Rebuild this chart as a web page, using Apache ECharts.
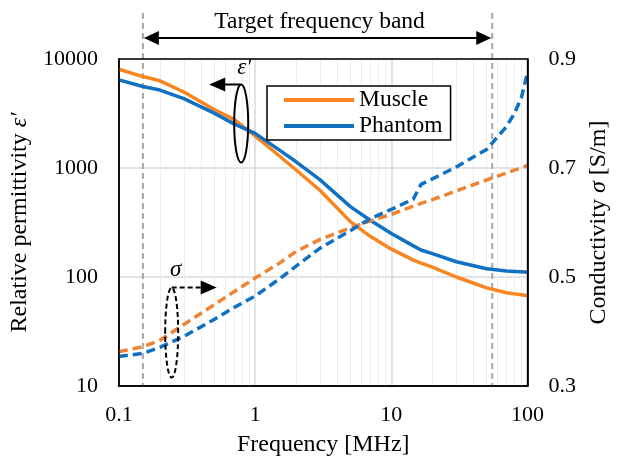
<!DOCTYPE html>
<html><head><meta charset="utf-8">
<script src="https://cdn.jsdelivr.net/npm/echarts@6/dist/echarts.min.js"></script>
<style>html,body{margin:0;padding:0;background:#fff}#c{width:619px;height:462px}</style>
</head><body><div id="c"></div>
<script>
const freq       = [0.1, 0.15, 0.2, 0.3, 0.5, 0.7, 1, 1.5, 2, 3, 5, 7, 10, 14.5, 16.5, 20, 30, 50, 70, 80, 90, 100];
const muscleEps  = [8060, 6900, 6310, 4980, 3440, 2790, 1970, 1295, 959, 622, 322, 236, 180, 143, 134, 123, 100, 79.4, 71.6, 70, 68.6, 67.2];
const phantomEps = [6440, 5600, 5190, 4330, 3190, 2540, 2080, 1465, 1140, 778, 442, 332, 251, 193, 177, 164, 138, 119, 113.5, 112.5, 111.5, 110.4];
const muscleSig  = [0.363, 0.372, 0.384, 0.413, 0.449, 0.473, 0.498, 0.525, 0.547, 0.569, 0.590, 0.603, 0.615, 0.630, 0.635, 0.642, 0.658, 0.678, 0.691, 0.696, 0.700, 0.705];
const phantomSig = [0.354, 0.360, 0.371, 0.391, 0.422, 0.444, 0.465, 0.496, 0.520, 0.553, 0.585, 0.607, 0.624, 0.643, 0.670, 0.680, 0.702, 0.734, 0.776, 0.800, 0.829, 0.876];
const minorGrid  = [0.2,0.3,0.4,0.5,0.6,0.7,0.8,0.9,2,3,4,5,6,7,8,9,20,30,40,50,60,70,80,90];
const bandEdges  = [0.15, 55];
const xTicks = ['0.1', '1', '10', '100'];
const leftTicks = ['10', '100', '1000', '10000'];
const rightTicks = ['0.3', '0.5', '0.7', '0.9'];

const FONT = '"Liberation Serif", "Times New Roman", serif';
const ORANGE = '#F98521', ORANGE_D = '#EE8333', BLUE = '#1071C2';
const LW = 3.5;
const zip = (xs, ys) => xs.map((x, i) => [x, ys[i]]);

const chart = echarts.init(document.getElementById('c'), null, {renderer: 'canvas'});
const tick = {fontFamily: FONT, fontSize: 22, color: '#000'};
const ttl = {fontFamily: FONT, fontSize: 24, color: '#000'};
const legendIcon = 'path://M0,0 L70,0 L70,4 L0,4 Z';

chart.setOption({
  animation: false,
  backgroundColor: '#fff',
  grid: {left: 118, right: 90, top: 59, bottom: 72, show: false},
  legend: {
    data: [
      {name: 'Muscle', icon: legendIcon, itemStyle: {color: ORANGE, borderWidth: 0}},
      {name: 'Phantom', icon: legendIcon, itemStyle: {color: BLUE, borderWidth: 0}}
    ],
    orient: 'vertical', left: 267, top: 86, z: 20,
    padding: [2, 8, 2, 17], itemGap: 2, itemWidth: 70, itemHeight: 4,
    itemStyle: {borderWidth: 0}, lineStyle: {type: 'solid', width: 0},
    borderColor: '#000', borderWidth: 1.5, backgroundColor: '#fff',
    textStyle: {fontFamily: FONT, fontSize: 23.5, color: '#000'}, selectedMode: false
  },
  xAxis: {
    type: 'log', logBase: 10, min: 0.1, max: 100,
    name: 'Frequency [MHz]', nameLocation: 'middle', nameGap: 47, nameTextStyle: ttl,
    axisLine: {show: true, lineStyle: {color: '#000', width: 1.5}},
    axisTick: {show: false},
    axisLabel: Object.assign({margin: 18, formatter: v => xTicks.find(t => Math.abs(+t - v) < 1e-6 * (+t)) || ''}, tick),
    splitLine: {show: true, lineStyle: {color: '#d9d9d9', width: 1.5}}
  },
  yAxis: [{
    type: 'log', logBase: 10, min: 10, max: 10000, position: 'left',
    name: 'Relative permittivity {i|ε′}', nameLocation: 'middle', nameGap: 84,
    nameTextStyle: Object.assign({rich: {i: Object.assign({fontStyle: 'italic'}, ttl)}}, ttl),
    axisLine: {show: true, lineStyle: {color: '#000', width: 1.5}},
    axisTick: {show: false},
    axisLabel: Object.assign({margin: 21, formatter: v => leftTicks.find(t => Math.abs(+t - v) < 1e-6 * (+t)) || ''}, tick),
    splitLine: {show: true, lineStyle: {color: '#d9d9d9', width: 1.5}}
  }, {
    type: 'value', min: 0.3, max: 0.9, interval: 0.2, position: 'right',
    name: 'Conductivity {i|σ} [S/m]', nameLocation: 'middle', nameGap: 59,
    nameTextStyle: Object.assign({rich: {i: Object.assign({fontStyle: 'italic'}, ttl)}}, ttl),
    axisLine: {show: true, lineStyle: {color: '#000', width: 1.5}},
    axisTick: {show: false},
    axisLabel: Object.assign({margin: 21, formatter: v => rightTicks.find(t => Math.abs(+t - v) < 1e-6) || ''}, tick),
    splitLine: {show: false}
  }],
  series: [
    {type: 'line', data: [[1, 100]], symbol: 'none', lineStyle: {opacity: 0}, z: 1, silent: true,
     markLine: {silent: true, z: 1, symbol: ['none', 'none'], label: {show: false},
       lineStyle: {color: '#eeeeee', width: 1, type: 'solid'},
       data: minorGrid.map(v => ({xAxis: v}))}},
    {name: 'Muscle', type: 'line', yAxisIndex: 0, data: zip(freq, muscleEps), symbol: 'none', showSymbol: false,
     lineStyle: {color: ORANGE, width: LW, join: 'round'}, itemStyle: {color: ORANGE}, z: 5},
    {name: 'Phantom', type: 'line', yAxisIndex: 0, data: zip(freq, phantomEps), symbol: 'none', showSymbol: false,
     lineStyle: {color: BLUE, width: LW, join: 'round'}, itemStyle: {color: BLUE}, z: 5},
    {name: 'Muscle σ', type: 'line', yAxisIndex: 1, data: zip(freq, muscleSig), symbol: 'none', showSymbol: false,
     lineStyle: {color: ORANGE_D, width: LW, type: [9, 5], join: 'round'}, itemStyle: {color: ORANGE_D}, z: 5},
    {name: 'Phantom σ', type: 'line', yAxisIndex: 1, data: zip(freq, phantomSig), symbol: 'none', showSymbol: false,
     lineStyle: {color: BLUE, width: LW, type: [9, 5], join: 'round'}, itemStyle: {color: BLUE}, z: 5}
  ]
});

const px = v => chart.convertToPixel({xAxisIndex: 0}, v);
const pyL = v => chart.convertToPixel({yAxisIndex: 0}, v);
const pyR = v => chart.convertToPixel({yAxisIndex: 1}, v);

const x0 = px(0.1), x1 = px(100), yT = pyL(10000), yB = pyL(10);
const bx0 = px(bandEdges[0]), bx1 = px(bandEdges[1]);
const arrowY = 38;
const els = [];
els.push({type: 'rect', z: 100, shape: {x: x0, y: yT, width: x1 - x0, height: yB - yT},
  style: {fill: 'none', stroke: '#000', lineWidth: 1.5}});
[bx0, bx1].forEach(x => els.push({type: 'line', z: 3, shape: {x1: x, y1: 13, x2: x, y2: yB},
  style: {stroke: '#a6a6a6', lineWidth: 2, lineDash: [6, 4]}}));
els.push({type: 'line', z: 50, shape: {x1: bx0 + 10, y1: arrowY, x2: bx1 - 10, y2: arrowY}, style: {stroke: '#000', lineWidth: 2}});
els.push({type: 'polygon', z: 50, shape: {points: [[bx0 + 1, arrowY], [bx0 + 16, arrowY - 7], [bx0 + 16, arrowY + 7]]}, style: {fill: '#000'}});
els.push({type: 'polygon', z: 50, shape: {points: [[bx1 - 1, arrowY], [bx1 - 16, arrowY - 7], [bx1 - 16, arrowY + 7]]}, style: {fill: '#000'}});
els.push({type: 'text', z: 50, x: (bx0 + bx1) / 2 + 2, y: 22,
  style: {text: 'Target frequency band', font: '23.5px ' + FONT, fill: '#000', textAlign: 'center', textVerticalAlign: 'middle'}});

// epsilon annotation
const ecx = px(0.79), ecy = pyL(2560), erx = 7, ery = 39;
els.push({type: 'ellipse', z: 50, shape: {cx: ecx, cy: ecy, rx: erx, ry: ery}, style: {fill: 'none', stroke: '#000', lineWidth: 2}});
els.push({type: 'line', z: 50, shape: {x1: ecx, y1: ecy - ery, x2: ecx - 18, y2: ecy - ery}, style: {stroke: '#000', lineWidth: 2}});
els.push({type: 'polygon', z: 50, shape: {points: [[ecx - 32, ecy - ery], [ecx - 16, ecy - ery - 7], [ecx - 16, ecy - ery + 7]]}, style: {fill: '#000'}});
els.push({type: 'text', z: 50, x: ecx + 3, y: ecy - ery - 17,
  style: {text: 'ε′', font: 'italic 23px ' + FONT, fill: '#000', textAlign: 'center', textVerticalAlign: 'middle'}});

// sigma annotation
const scx = px(0.244), scy = pyR(0.398), srx = 6.5, sry = 45;
els.push({type: 'ellipse', z: 50, shape: {cx: scx, cy: scy, rx: srx, ry: sry}, style: {fill: 'none', stroke: '#000', lineWidth: 2, lineDash: [5, 3]}});
els.push({type: 'line', z: 50, shape: {x1: scx, y1: scy - sry, x2: scx + 30, y2: scy - sry}, style: {stroke: '#000', lineWidth: 2, lineDash: [5, 3]}});
els.push({type: 'polygon', z: 50, shape: {points: [[scx + 45, scy - sry], [scx + 29, scy - sry - 7], [scx + 29, scy - sry + 7]]}, style: {fill: '#000'}});
els.push({type: 'text', z: 50, x: scx + 4, y: scy - sry - 18,
  style: {text: 'σ', font: 'italic 23px ' + FONT, fill: '#000', textAlign: 'center', textVerticalAlign: 'middle'}});

chart.setOption({graphic: {elements: els}});
</script></body></html>
